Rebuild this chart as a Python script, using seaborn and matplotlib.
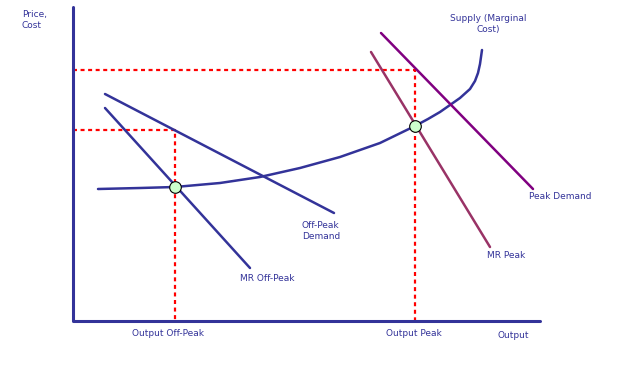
import matplotlib
matplotlib.use("Agg")
import matplotlib.pyplot as plt
import seaborn as sns
import pandas as pd

# === Diagram geometry (pixel-like coordinates, y grows downward) ===
axis_x = [73, 73, 540]
axis_y = [7, 321, 321]

offpeak_demand_x = [105, 334]
offpeak_demand_y = [94, 213]

mr_offpeak_x = [105, 250]
mr_offpeak_y = [108, 268]

supply_x = [98, 140, 175, 220, 260, 300, 340, 380, 415, 428, 440, 450, 460, 470, 475, 478, 480, 481, 482]
supply_y = [189, 188, 187, 183, 177, 168, 157, 143, 126, 119, 112, 105, 98, 89, 81, 73, 64, 57, 50]

peak_demand_x = [381, 533]
peak_demand_y = [33, 189]

mr_peak_x = [371, 490]
mr_peak_y = [52, 247]

# red dotted guide lines
peak_guide_x = [73, 415, 415]
peak_guide_y = [70, 70, 321]
offpeak_guide_x = [73, 175, 175]
offpeak_guide_y = [130, 130, 321]

# equilibrium points
eq_x = [175, 415]
eq_y = [187, 126]

labels = [
    ("Price,\nCost", 22, 10, "left"),
    ("Supply (Marginal\nCost)", 488, 14, "center"),
    ("Peak Demand", 529, 192, "left"),
    ("Off-Peak\nDemand", 302, 221, "left"),
    ("MR Off-Peak", 240, 274, "left"),
    ("MR Peak", 487, 251, "left"),
    ("Output Off-Peak", 132, 329, "left"),
    ("Output Peak", 386, 329, "left"),
    ("Output", 498, 331, "left"),
]

blue = "#333399"
purple = "#800080"
maroon = "#993366"
red = "#ff0000"

sns.set_style("white")
fig = plt.figure(figsize=(6.26, 3.71), dpi=100)
ax = fig.add_axes([0, 0, 1, 1])


def draw(xs, ys, color, lw=1.8, ls="-"):
    df = pd.DataFrame({"x": xs, "y": ys})
    sns.lineplot(data=df, x="x", y="y", sort=False, estimator=None,
                 color=color, linewidth=lw, linestyle=ls, ax=ax)


draw(peak_guide_x, peak_guide_y, red, lw=1.6, ls=(0, (1.8, 1.6)))
draw(offpeak_guide_x, offpeak_guide_y, red, lw=1.6, ls=(0, (1.8, 1.6)))
draw(axis_x, axis_y, blue, lw=2.2)
draw(offpeak_demand_x, offpeak_demand_y, blue)
draw(mr_offpeak_x, mr_offpeak_y, blue)
draw(supply_x, supply_y, blue)
draw(peak_demand_x, peak_demand_y, purple)
draw(mr_peak_x, mr_peak_y, maroon)

sns.scatterplot(x=eq_x, y=eq_y, s=70, color="#ccffcc", edgecolor="black",
                linewidth=0.8, zorder=5, ax=ax)

for text, x, y, ha in labels:
    ax.text(x, y, text, color=blue, fontsize=6.5, ha=ha, va="top",
            linespacing=1.25, family="DejaVu Sans")

ax.set_xlim(0, 626)
ax.set_ylim(371, 0)
ax.axis("off")

fig.savefig("out.png", dpi=100, facecolor="white")
